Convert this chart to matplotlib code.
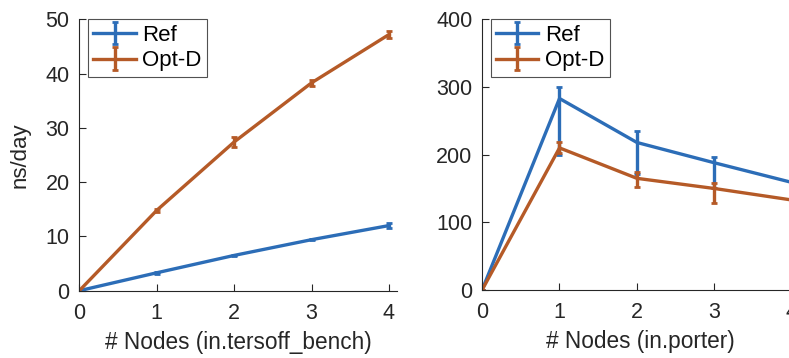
import matplotlib.pyplot as plt
import numpy as np

# data
nodes = [0, 1, 2, 3, 4]

tersoff_ref = [0, 3.3, 6.5, 9.4, 12.0]
tersoff_ref_lo = [0, 0.15, 0.15, 0.15, 0.4]
tersoff_ref_hi = [0, 0.15, 0.15, 0.15, 0.4]
tersoff_opt = [0, 14.8, 27.4, 38.3, 47.2]
tersoff_opt_lo = [0, 0.3, 0.9, 0.5, 0.7]
tersoff_opt_hi = [0, 0.3, 0.9, 0.5, 0.7]

porter_ref = [0, 283, 218, 188, 159]
porter_ref_lo = [0, 83, 46, 37, 0]
porter_ref_hi = [0, 17, 17, 9, 0]
porter_opt = [0, 210, 165, 150, 133]
porter_opt_lo = [0, 8, 13, 22, 0]
porter_opt_hi = [0, 8, 10, 8, 0]

blue = "#2C6DB7"
orange = "#B55A27"
grey = "#262626"

plt.rcParams['font.family'] = ['Liberation Sans', 'DejaVu Sans']
plt.rcParams['font.size'] = 16

fig = plt.figure(figsize=(7.89, 3.58), dpi=100)
ax1 = fig.add_axes([0.1005, 0.188, 0.4023, 0.758])
ax2 = fig.add_axes([0.611, 0.19, 0.4023, 0.756])

def draw(ax, ref, rlo, rhi, opt, olo, ohi, ylim, yticks, xlabel):
    ax.errorbar(nodes, ref, yerr=[rlo, rhi], color=blue, lw=2.4, elinewidth=2.4,
                capsize=2, capthick=2, label="Ref")
    ax.errorbar(nodes, opt, yerr=[olo, ohi], color=orange, lw=2.4, elinewidth=2.4,
                capsize=2, capthick=2, label="Opt-D")
    ax.set_xlim(0, 4.1)
    ax.set_ylim(*ylim)
    ax.set_xticks(nodes)
    ax.set_yticks(yticks)
    ax.set_xlabel(xlabel, color=grey, labelpad=5, fontsize=16.3)
    for s in ["top", "right"]:
        ax.spines[s].set_visible(False)
    for s in ["left", "bottom"]:
        ax.spines[s].set_color(grey)
        ax.spines[s].set_linewidth(0.8)
    ax.tick_params(direction="in", length=5, width=0.8, colors=grey, labelsize=15.5)
    ax.tick_params(axis="x", pad=9)
    ax.tick_params(axis="y", pad=7)
    leg = ax.legend(loc="upper left", bbox_to_anchor=(0.027, 1.0), frameon=True,
                    fancybox=False, edgecolor=grey, borderaxespad=0.0,
                    handlelength=1.9, handletextpad=0.3, borderpad=0.25,
                    labelspacing=0.2, fontsize=16)
    leg.get_frame().set_linewidth(0.8)
    for t in leg.get_texts():
        t.set_color("black")

draw(ax1, tersoff_ref, tersoff_ref_lo, tersoff_ref_hi,
     tersoff_opt, tersoff_opt_lo, tersoff_opt_hi,
     (0, 50), [0, 10, 20, 30, 40, 50], "# Nodes (in.tersoff_bench)")
ax1.set_ylabel("ns/day", color=grey, labelpad=11)

draw(ax2, porter_ref, porter_ref_lo, porter_ref_hi,
     porter_opt, porter_opt_lo, porter_opt_hi,
     (0, 400), [0, 100, 200, 300, 400], "# Nodes (in.porter)")

fig.savefig("out.png", dpi=100)
